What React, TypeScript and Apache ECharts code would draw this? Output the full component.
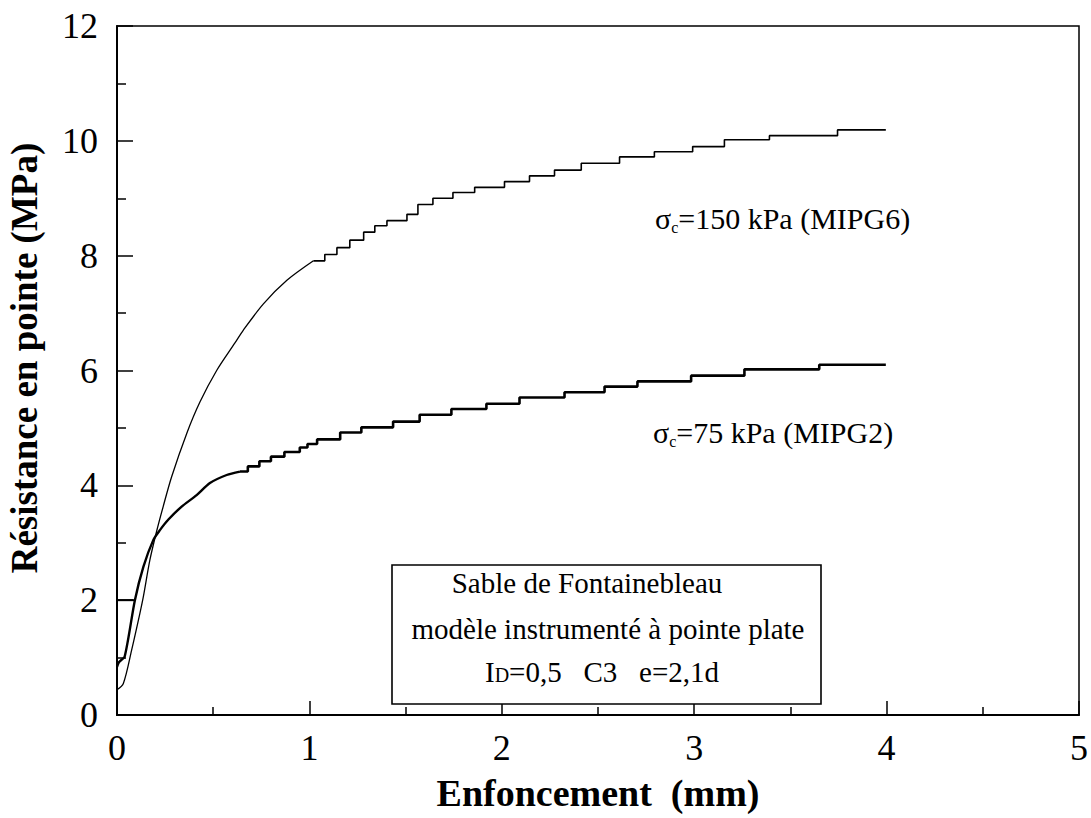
import React, { useEffect, useRef } from "react";
import * as echarts from "echarts";

// MIPG6 (σc = 150 kPa): smooth initial rise, then stepped plateau
const MIPG6_RISE_X = [0, 0.033, 0.076, 0.119, 0.137, 0.171, 0.206, 0.24, 0.284, 0.362, 0.431, 0.518, 0.613, 0.656, 0.761, 0.883, 1.021];
const MIPG6_RISE_Y = [0.44, 0.55, 1.13, 1.77, 2.06, 2.7, 3.2, 3.63, 4.15, 4.9, 5.45, 6.0, 6.48, 6.7, 7.16, 7.57, 7.91];
const MIPG6_STEP_X = [1.021, 1.08, 1.143, 1.21, 1.282, 1.34, 1.403, 1.507, 1.564, 1.642, 1.746, 1.859, 2.014, 2.144, 2.274, 2.413, 2.612, 2.793, 2.992, 3.157, 3.391, 3.745, 3.996];
const MIPG6_STEP_Y = [7.91, 8.02, 8.14, 8.27, 8.41, 8.52, 8.61, 8.72, 8.89, 9.0, 9.1, 9.19, 9.29, 9.39, 9.49, 9.61, 9.72, 9.81, 9.9, 10.02, 10.09, 10.19, 10.19];

// MIPG2 (σc = 75 kPa)
const MIPG2_RISE_X = [0, 0.01, 0.04, 0.093, 0.137, 0.189, 0.223, 0.266, 0.336, 0.414, 0.483, 0.57, 0.639];
const MIPG2_RISE_Y = [0.84, 0.92, 1.02, 2.0, 2.58, 3.05, 3.22, 3.4, 3.63, 3.83, 4.04, 4.18, 4.24];
const MIPG2_STEP_X = [0.639, 0.68, 0.74, 0.8, 0.87, 0.95, 0.99, 1.04, 1.16, 1.27, 1.435, 1.573, 1.738, 1.92, 2.092, 2.326, 2.534, 2.705, 2.984, 3.261, 3.65, 3.996];
const MIPG2_STEP_Y = [4.24, 4.33, 4.42, 4.5, 4.58, 4.66, 4.72, 4.8, 4.92, 5.01, 5.11, 5.23, 5.33, 5.42, 5.53, 5.62, 5.72, 5.81, 5.91, 6.02, 6.1, 6.1];

// short horizontal segment at 2 MPa near the origin
const REF_X = [0, 0.093];
const REF_Y = [2, 2];

const X_MIN = 0, X_MAX = 5, X_INTERVAL = 1;
const Y_MIN = 0, Y_MAX = 12, Y_INTERVAL = 2;

const X_TITLE = "Enfoncement  (mm)";
const Y_TITLE = "Résistance en pointe (MPa)";
const LABEL_150 = "=150 kPa (MIPG6)";
const LABEL_75 = "=75 kPa (MIPG2)";
const BOX_LINES = ["Sable de Fontainebleau", "modèle instrumenté à pointe plate", "=0,5   C3   e=2,1d"];

const SERIF = "'Liberation Serif', 'Times New Roman', Times, serif";

const zip = (xs: number[], ys: number[]) => xs.map((x, i) => [x, ys[i]]);

export default function App() {
  const ref = useRef<HTMLDivElement>(null);

  useEffect(() => {
    if (!ref.current) return;
    const chart = echarts.init(ref.current, null, { renderer: "svg" });

    const lineBase = { type: "line", symbol: "none", silent: true };

    const subRich = {
      s: { fontFamily: SERIF, fontSize: 30, lineHeight: 34, color: "#000", verticalAlign: "middle" },
      c: { fontFamily: SERIF, fontSize: 16, lineHeight: 16, color: "#000", verticalAlign: "bottom" },
      t: { fontFamily: SERIF, fontSize: 30, lineHeight: 34, color: "#000", verticalAlign: "middle" },
    };

    chart.setOption({
      animation: false,
      backgroundColor: "#fff",
      grid: {
        left: 117,
        right: 11,
        top: 26,
        bottom: 103,
        show: true,
        borderColor: "#000",
        borderWidth: 1.5,
        containLabel: false,
      },
      xAxis: {
        type: "value",
        min: X_MIN,
        max: X_MAX,
        interval: X_INTERVAL,
        axisLine: { show: true, lineStyle: { color: "#000", width: 2 } },
        axisTick: { show: true, inside: true, length: 14, lineStyle: { color: "#000", width: 1.5 } },
        minorTick: { show: true, splitNumber: 2, length: 8, lineStyle: { color: "#000", width: 1.5 } },
        splitLine: { show: false },
        axisLabel: { color: "#000", fontFamily: SERIF, fontSize: 36, margin: 15 },
        name: X_TITLE,
        nameLocation: "middle",
        nameGap: 59,
        nameTextStyle: { color: "#000", fontFamily: SERIF, fontSize: 38, fontWeight: "bold" },
      },
      yAxis: {
        type: "value",
        min: Y_MIN,
        max: Y_MAX,
        interval: Y_INTERVAL,
        axisLine: { show: true, lineStyle: { color: "#000", width: 2 } },
        axisTick: { show: true, inside: true, length: 16, lineStyle: { color: "#000", width: 1.5 } },
        minorTick: { show: true, splitNumber: 2, length: 9, lineStyle: { color: "#000", width: 1.5 } },
        splitLine: { show: false },
        axisLabel: { color: "#000", fontFamily: SERIF, fontSize: 36, margin: 19, padding: [10, 0, 0, 0] },
      },
      graphic: [
        {
          type: "text",
          x: 24,
          y: 358,
          rotation: Math.PI / 2,
          silent: true,
          style: {
            text: Y_TITLE,
            fill: "#000",
            font: `bold 37px ${SERIF}`,
            align: "center",
            verticalAlign: "middle",
          },
        },
        {
          type: "text",
          x: 655,
          y: 218,
          silent: true,
          style: {
            text: `{s|σ}{c|c}{t|${LABEL_150}}`,
            rich: subRich,
            align: "left",
            verticalAlign: "middle",
          },
        },
        {
          type: "text",
          x: 653,
          y: 432,
          silent: true,
          style: {
            text: `{s|σ}{c|c}{t|${LABEL_75}}`,
            rich: subRich,
            align: "left",
            verticalAlign: "middle",
          },
        },
        {
          type: "rect",
          silent: true,
          shape: { x: 392, y: 565, width: 429, height: 139 },
          style: { fill: "#fff", stroke: "#000", lineWidth: 1.6 },
          z: 10,
        },
        {
          type: "text",
          x: 587,
          y: 583,
          silent: true,
          z: 11,
          style: { text: BOX_LINES[0], fill: "#000", font: `29px ${SERIF}`, align: "center", verticalAlign: "middle" },
        },
        {
          type: "text",
          x: 608,
          y: 629,
          silent: true,
          z: 11,
          style: { text: BOX_LINES[1], fill: "#000", font: `29px ${SERIF}`, align: "center", verticalAlign: "middle" },
        },
        {
          type: "text",
          x: 602,
          y: 672,
          silent: true,
          z: 11,
          style: {
            text: `{n|I}{d|D}{n|${BOX_LINES[2]}}`,
            align: "center",
            verticalAlign: "middle",
            rich: {
              n: { fontFamily: SERIF, fontSize: 29, lineHeight: 34, color: "#000", verticalAlign: "middle" },
              d: { fontFamily: SERIF, fontSize: 20, lineHeight: 20, color: "#000", verticalAlign: "bottom", padding: [0, 0, 4, 0] },
            },
          },
        },
      ],
      series: [
        { ...lineBase, name: "MIPG6", smooth: 0.3, data: zip(MIPG6_RISE_X, MIPG6_RISE_Y), lineStyle: { color: "#000", width: 1.3 } },
        { ...lineBase, name: "MIPG6", step: "end", data: zip(MIPG6_STEP_X, MIPG6_STEP_Y), lineStyle: { color: "#000", width: 1.6 } },
        { ...lineBase, name: "MIPG2", smooth: 0.25, data: zip(MIPG2_RISE_X, MIPG2_RISE_Y), lineStyle: { color: "#000", width: 2.4 } },
        { ...lineBase, name: "MIPG2", step: "end", data: zip(MIPG2_STEP_X, MIPG2_STEP_Y), lineStyle: { color: "#000", width: 2.6 } },
        { ...lineBase, name: "ref", data: zip(REF_X, REF_Y), lineStyle: { color: "#000", width: 2 } },
      ],
    });

    return () => chart.dispose();
  }, []);

  return <div ref={ref} style={{ width: 1091, height: 818, position: "absolute", left: 0, top: 0 }} />;
}
